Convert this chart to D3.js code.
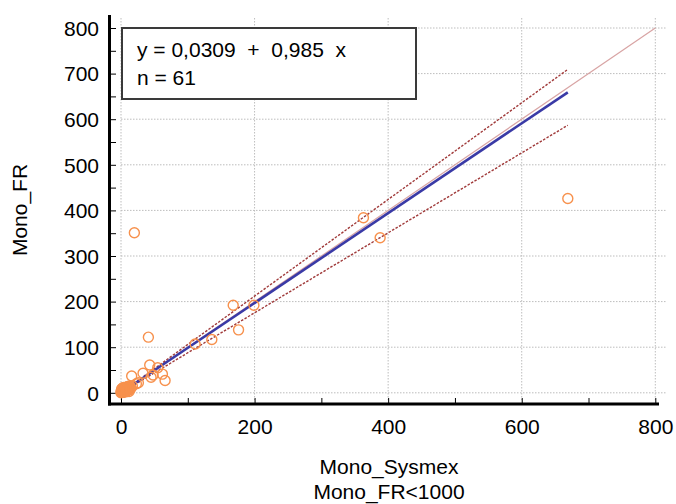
<!DOCTYPE html>
<html>
<head>
<meta charset="utf-8">
<script src="https://cdn.jsdelivr.net/npm/d3@7"></script>
<style>
  body { margin: 0; background: #fff; }
  svg { display: block; font-family: "Liberation Sans", Arial, sans-serif; }
  .grid line { stroke: #bdbdbd; stroke-width: 1; stroke-dasharray: 1.5,1.5; }
</style>
</head>
<body>
<svg id="chart" width="676" height="504"></svg>
<script>
// Mono_Sysmex (x) vs Mono_FR (y), 61 samples
const xVals = [669, 363, 388, 20, 168, 199, 176, 136, 111, 41, 43, 55, 62, 66, 48, 33, 16, 23, 17, 9, 4, 45, 26, 6,
  1, 2, 3, 5, 2, 7, 8, 10, 4, 12, 0, 1, 3, 6, 9, 11, 5, 14, 2, 7, 13, 1, 4, 8, 10, 6, 3, 15, 12, 0, 9, 5, 2, 11, 7, 13, 1];
const yVals = [426, 384, 340, 351, 192, 192, 138, 117, 107, 122, 61, 55, 41, 27, 39, 43, 37, 20, 15, 13, 6, 34, 22, 10,
  2, 1, 4, 3, 6, 5, 8, 6, 12, 9, 0, 1, 2, 7, 4, 11, 9, 12, 3, 2, 7, 5, 1, 12, 14, 4, 8, 10, 3, 3, 9, 5, 10, 6, 11, 15, 8];

// regression y = a + b x, and slope bounds of the band
const intercept = 0.0309;
const slope = 0.985;
const slopeHi = 1.06;
const slopeLo = 0.877;
const fitMaxX = 669;

const xTicks = d3.range(0, 801, 100);
const yTicks = d3.range(0, 801, 50);
const legendLines = ['y = 0,0309  +  0,985  x', 'n = 61'];

const svg = d3.select('#chart');
const x = d3.scaleLinear().domain([0, 800]).range([121, 655.3]);
const y = d3.scaleLinear().domain([0, 800]).range([392.8, 28]);

// dotted grid
const grid = svg.append('g').attr('class', 'grid');
grid.selectAll('.gv').data(d3.range(0, 801, 200)).join('line')
  .attr('x1', d => x(d)).attr('x2', d => x(d))
  .attr('y1', 18).attr('y2', 400);
grid.selectAll('.gh').data(d3.range(0, 801, 100)).join('line')
  .attr('x1', x(0)).attr('x2', 667)
  .attr('y1', d => y(d)).attr('y2', d => y(d));

// axes: ticks point inward, labels only on majors
const axL = svg.append('g').attr('transform', 'translate(110,0)')
  .call(d3.axisLeft(y).tickValues(yTicks).tickSize(-6).tickPadding(11)
    .tickFormat(d => d % 100 === 0 ? d : ''));
const axB = svg.append('g').attr('transform', 'translate(0,404)')
  .call(d3.axisBottom(x).tickValues(xTicks).tickSize(-6).tickPadding(15)
    .tickFormat(d => d % 200 === 0 ? d : ''));
[axL, axB].forEach(g => {
  g.select('.domain').remove();
  g.selectAll('.tick line').attr('stroke', '#000').attr('stroke-width', 1);
  g.selectAll('.tick text').attr('fill', '#000').style('font-size', '21px')
    .style('font-family', '"Liberation Sans", Arial, sans-serif');
});
axL.selectAll('.tick text').attr('dy', '0.35em');

svg.append('line').attr('x1', 109.5).attr('x2', 109.5).attr('y1', 15).attr('y2', 405.5)
  .attr('stroke', '#000').attr('stroke-width', 3);
svg.append('line').attr('x1', 108).attr('x2', 659).attr('y1', 404).attr('y2', 404)
  .attr('stroke', '#000').attr('stroke-width', 3);

// identity line
svg.append('line')
  .attr('x1', x(0)).attr('y1', y(0)).attr('x2', x(800)).attr('y2', y(800))
  .attr('stroke', '#d8a4a4').attr('stroke-width', 1.2);

// band lines
[slopeHi, slopeLo].forEach(s => {
  svg.append('line')
    .attr('x1', x(0)).attr('y1', y(0)).attr('x2', x(fitMaxX)).attr('y2', y(s * fitMaxX))
    .attr('stroke', '#a03a3a').attr('stroke-width', 1.4).attr('stroke-dasharray', '2.5,1.5');
});

// regression line
svg.append('line')
  .attr('x1', x(0)).attr('y1', y(intercept)).attr('x2', x(fitMaxX)).attr('y2', y(intercept + slope * fitMaxX))
  .attr('stroke', '#3a3aa6').attr('stroke-width', 2.6);

// points
svg.append('g').selectAll('circle').data(xVals.map((v, i) => [v, yVals[i]])).join('circle')
  .attr('cx', d => x(d[0])).attr('cy', d => y(d[1])).attr('r', 5)
  .attr('fill', 'none').attr('stroke', '#f7914d').attr('stroke-width', 1.4);

// legend box
svg.append('rect').attr('x', 122).attr('y', 28).attr('width', 294).attr('height', 71)
  .attr('fill', '#fff').attr('stroke', '#3a3a3a').attr('stroke-width', 2);
svg.append('g').selectAll('text').data(legendLines).join('text')
  .attr('x', 137).attr('y', (d, i) => 57 + i * 28)
  .attr('xml:space', 'preserve').style('white-space', 'pre')
  .style('font-size', '21px').attr('fill', '#000')
  .text(d => d);

// axis titles
svg.append('text').attr('transform', 'translate(27,210) rotate(-90)')
  .attr('text-anchor', 'middle').style('font-size', '21px').text('Mono_FR');
svg.append('text').attr('x', 389).attr('y', 474)
  .attr('text-anchor', 'middle').style('font-size', '21px').text('Mono_Sysmex');
svg.append('text').attr('x', 389).attr('y', 499)
  .attr('text-anchor', 'middle').style('font-size', '21px').text('Mono_FR<1000');
</script>
</body>
</html>
